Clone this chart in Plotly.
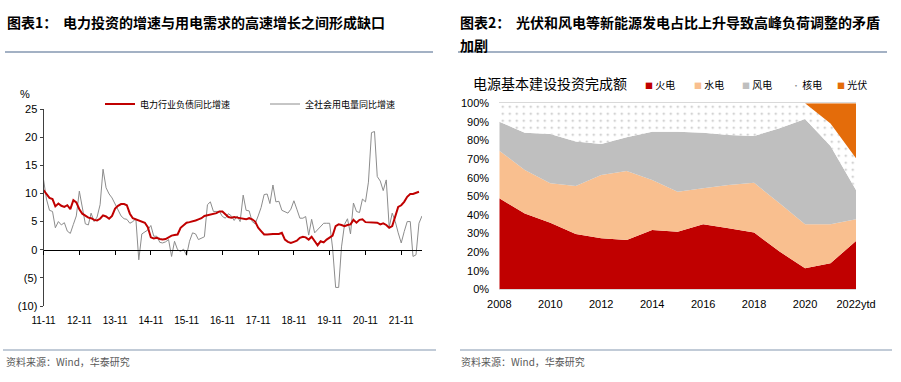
import plotly.graph_objects as go
import pandas as pd

W, H = 901, 382


def px(x):
    return x / W


def py(y):
    return 1 - y / H


CJK = "Noto Sans CJK SC"
LAT = "Liberation Sans Narrow, Liberation Sans, Arial"
LAT2 = "Liberation Sans, Arial"

# ---------------- left chart data (monthly, from 2011-11) ----------------
start_month = "2011-11-01"
liab_yoy = [
    10.6, 10.0, 9.2, 9.0, 7.7, 8.2, 7.8, 7.6, 7.9, 7.2, 8.8, 8.4,
    7.2, 6.4, 6.0, 5.7, 5.6, 5.3, 5.2, 5.5, 6.1, 5.9, 5.5, 6.0,
    7.3, 7.8, 8.1, 8.1, 7.9, 6.4, 5.6, 5.4, 5.3, 5.1, 4.8, 4.0,
    2.2, 2.0, 2.1, 1.9, 1.8, 1.9, 2.2, 2.5, 2.6, 2.7, 3.9, 4.3,
    4.8, 4.9, 5.0, 5.2, 5.4, 5.6, 6.0, 6.1, 6.2, 6.3, 6.5, 6.8,
    6.8, 6.3, 5.8, 5.7, 5.8, 5.7, 5.6, 5.5, 5.4, 5.6, 5.4, 5.0,
    3.9, 3.3, 2.7, 2.7, 2.8, 2.8, 2.8, 2.8, 3.0, 1.8, 1.4, 1.2,
    1.4, 1.6, 2.1, 2.3, 2.2, 1.8, 2.3, 1.5, 0.8, 1.5, 1.3, 1.8,
    2.2, 2.5, 4.2, 4.5, 4.4, 4.2, 4.4, 4.5, 5.3, 4.8, 5.3, 5.4,
    4.9, 4.9, 4.9, 4.9, 4.8, 4.5, 4.7, 4.4, 3.9, 4.2, 6.0, 7.6,
    7.9, 8.5, 9.4, 9.9, 9.9, 10.1, 10.3,
]
power_yoy = [
    12.5, 9.0, 7.0, 6.8, 3.9, 5.0, 4.4, 4.8, 3.3, 2.9, 4.5, 6.0,
    10.4, 7.6, 4.6, 4.4, 6.5, 5.0, 5.8, 8.0, 14.3, 11.0, 9.9, 9.2,
    8.2, 7.2, 6.0, 5.5, 5.4, 4.7, 5.0, 5.5, -1.8, 2.8, 3.2, 3.5,
    4.3, 2.4, 2.4, 1.3, 1.2, 1.4, 1.8, -1.2, 1.5, 0.0, -0.3, 0.1,
    -1.0, 1.5, 3.0, 2.8, 1.8, 2.0, 2.3, 8.0, 8.5, 6.8, 6.8, 6.8,
    5.9, 5.6, 6.4, 6.0, 5.2, 6.0, 5.0, 9.7, 7.0, 6.9, 5.0, 4.6,
    6.0, 7.5, 9.8, 9.9, 8.2, 11.5, 8.5, 8.6, 7.0, 6.7, 6.5, 7.2,
    8.7, 7.2, 5.6, 5.6, 5.9, 2.6, 5.4, 3.0, 3.5, 4.2, 4.7, 4.7,
    4.7, 0.3, -6.7, -6.7, 0.5, 4.5, 5.5, 2.8, 8.3, 6.8, 6.6, 9.0,
    8.5, 12.0, 20.8, 21.0, 13.0, 12.2, 10.5, 12.4, 4.0, 6.5, 5.0, 3.0,
    1.2, 3.2, 5.0, 5.0, -1.2, -0.9, 4.7, 6.0,
]
left_ytickvals = [25, 20, 15, 10, 5, 0, -5, -10]
left_yticktext = ["25", "20", "15", "10", "5", "0", "(5)", "(10)"]

months = pd.date_range(start_month, periods=len(power_yoy), freq="MS")
left_xticks = pd.date_range(start_month, periods=11, freq="12MS")

# ---------------- right chart data (share of investment, %) ----------------
years = ["2008", "2009", "2010", "2011", "2012", "2013", "2014", "2015",
         "2016", "2017", "2018", "2019", "2020", "2021", "2022ytd"]
thermal = [48.9, 40.8, 35.8, 29.7, 27.4, 26.5, 31.9, 31.0, 35.0, 32.8, 30.5, 20.3, 11.3, 14.0, 26.0]
hydro = [25.6, 23.3, 21.2, 25.9, 34.0, 37.1, 26.9, 21.5, 19.3, 23.3, 26.8, 25.9, 23.7, 21.0, 11.6]
wind = [15.6, 20.1, 26.5, 23.8, 16.7, 18.1, 25.9, 32.2, 29.9, 26.8, 25.1, 40.4, 56.6, 42.1, 15.8]
nuclear = [9.9, 15.8, 16.5, 20.6, 21.9, 18.3, 15.3, 15.3, 15.8, 17.1, 17.6, 13.4, 8.4, 12.1, 17.0]
solar = [0, 0, 0, 0, 0, 0, 0, 0, 0, 0, 0, 0, 0, 10.8, 29.6]
right_ytickvals = [0, 10, 20, 30, 40, 50, 60, 70, 80, 90, 100]
right_yticktext = [f"{v}%" for v in right_ytickvals]

fig = go.Figure()

# left chart traces
fig.add_trace(go.Scatter(
    x=months, y=power_yoy, name="全社会用电量同比增速", mode="lines",
    line=dict(color="#8C8C8C", width=1), xaxis="x", yaxis="y",
    legend="legend", legendrank=2))
fig.add_trace(go.Scatter(
    x=months[:len(liab_yoy)], y=liab_yoy, name="电力行业负债同比增速", mode="lines",
    line=dict(color="#C00000", width=2), xaxis="x3", yaxis="y",
    legend="legend", legendrank=1))

# right chart traces
area_specs = [
    ("火电", thermal, "#C00000", None),
    ("水电", hydro, "#F9BF8F", None),
    ("风电", wind, "#BFBFBF", None),
    ("核电", nuclear, "#FFFFFF", dict(shape=".", fgcolor="#7F7F7F", bgcolor="#FFFFFF", size=7, solidity=0.07)),
    ("光伏", solar, "#E46C0A", None),
]
for name, vals, col, pat in area_specs:
    kw = dict(fillpattern=pat) if pat else {}
    fig.add_trace(go.Scatter(
        x=years, y=vals, name=name, mode="none", stackgroup="r",
        fillcolor=col, xaxis="x2", yaxis="y2", showlegend=False, **kw))

left_range = [months[0], months[-1]]
CLEAR = "rgba(0,0,0,0)"

fig.update_layout(
    width=W, height=H, margin=dict(l=0, r=0, t=0, b=0, autoexpand=False),
    paper_bgcolor="white", plot_bgcolor=CLEAR,
    font=dict(family=LAT2, size=11, color="#000000"),
    showlegend=True,
    legend=dict(
        orientation="h", x=px(100), y=py(104), xanchor="left", yanchor="middle",
        entrywidth=120, entrywidthmode="pixels", bgcolor=CLEAR,
        font=dict(family=CJK, size=9, color="#000000"), traceorder="normal",
        itemwidth=30),
    xaxis=dict(
        domain=[px(43.5), px(422)], anchor="y", range=left_range, automargin=False,
        tickvals=list(left_xticks), tickformat="%y-%m", showline=False,
        showgrid=False, zeroline=False, ticks="outside", ticklen=5, tickcolor=CLEAR,
        tickfont=dict(family=LAT, size=10, color="#000")),
    xaxis3=dict(
        overlaying="x", anchor="free", position=py(250), range=left_range,
        tickvals=list(left_xticks), showticklabels=False, showline=True,
        linecolor="#000000", linewidth=1, ticks="outside", ticklen=4,
        tickcolor="#000000", showgrid=False, zeroline=False, automargin=False),
    yaxis=dict(
        domain=[py(306), py(109)], anchor="x", range=[-10, 25], automargin=False,
        tickvals=left_ytickvals, ticktext=left_yticktext, showgrid=False,
        zeroline=False, showline=True, linecolor="#404040", linewidth=1,
        ticks="outside", ticklen=3, tickcolor="#404040",
        tickfont=dict(family=LAT, size=11, color="#000")),
    xaxis2=dict(
        domain=[px(499.3), px(856)], anchor="y2", type="category", automargin=False,
        range=[0, len(years) - 1], tickvals=years[::2], showgrid=False,
        zeroline=False, showline=True, mirror=True, linecolor="#D9D9D9",
        linewidth=1, ticks="outside", ticklen=4, tickcolor=CLEAR,
        tickfont=dict(family=LAT2, size=11, color="#000")),
    yaxis2=dict(
        domain=[py(289.3), py(103.3)], anchor="x2", range=[0, 100], automargin=False,
        tickvals=right_ytickvals, ticktext=right_yticktext, showgrid=False,
        zeroline=False, showline=False, ticks="outside", ticklen=7, tickcolor=CLEAR,
        tickfont=dict(family=LAT2, size=11, color="#000")),
)

anns = []


def note(x, y, text, size, color="#000000", family=CJK, xanchor="left"):
    anns.append(dict(x=px(x), y=py(y), xref="paper", yref="paper", text=text,
                     showarrow=False, xanchor=xanchor, yanchor="middle",
                     font=dict(family=family, size=size, color=color)))


# titles
note(5, 22, "<b>图表1：</b>", 14)
note(61, 22, "<b>电力投资的增速与用电需求的高速增长之间形成缺口</b>", 14)
note(458, 22, "<b>图表2：</b>", 14)
note(514, 22, "<b>光伏和风电等新能源发电占比上升导致高峰负荷调整的矛盾</b>", 14)
note(458, 45, "<b>加剧</b>", 14)
# footers
note(4, 361, "资料来源：Wind，华泰研究", 10, "#595959")
note(459, 361, "资料来源：Wind，华泰研究", 10, "#595959")
# left unit
note(25, 94, "%", 11, "#000000", LAT2, "center")
# right inner title
note(471, 83, "电源基本建设投资完成额", 14)
# right legend
leg_items = [("火电", "#C00000", "■", 643), ("水电", "#F9BF8F", "■", 692),
             ("风电", "#BFBFBF", "■", 740), ("核电", "#8C8C8C", "·", 790),
             ("光伏", "#E46C0A", "■", 835)]
for name, col, sym, xx in leg_items:
    note(xx, 84, f"<span style='color:{col};font-size:8px'>{sym}</span> {name}", 10)

rule_col = "#8497B0"
shapes = [
    dict(type="line", xref="paper", yref="paper", x0=px(5), x1=px(433), y0=py(52), y1=py(52),
         line=dict(color=rule_col, width=1.5)),
    dict(type="line", xref="paper", yref="paper", x0=px(458), x1=px(887), y0=py(52), y1=py(52),
         line=dict(color=rule_col, width=1.5)),
    dict(type="line", xref="paper", yref="paper", x0=px(3), x1=px(436), y0=py(350), y1=py(350),
         line=dict(color=rule_col, width=1.2)),
    dict(type="line", xref="paper", yref="paper", x0=px(460), x1=px(892), y0=py(350), y1=py(350),
         line=dict(color=rule_col, width=1.2)),
]
fig.update_layout(annotations=anns, shapes=shapes)

fig.write_html("out.html", config={"displayModeBar": False},
               post_script="document.body.style.margin='0px';")
